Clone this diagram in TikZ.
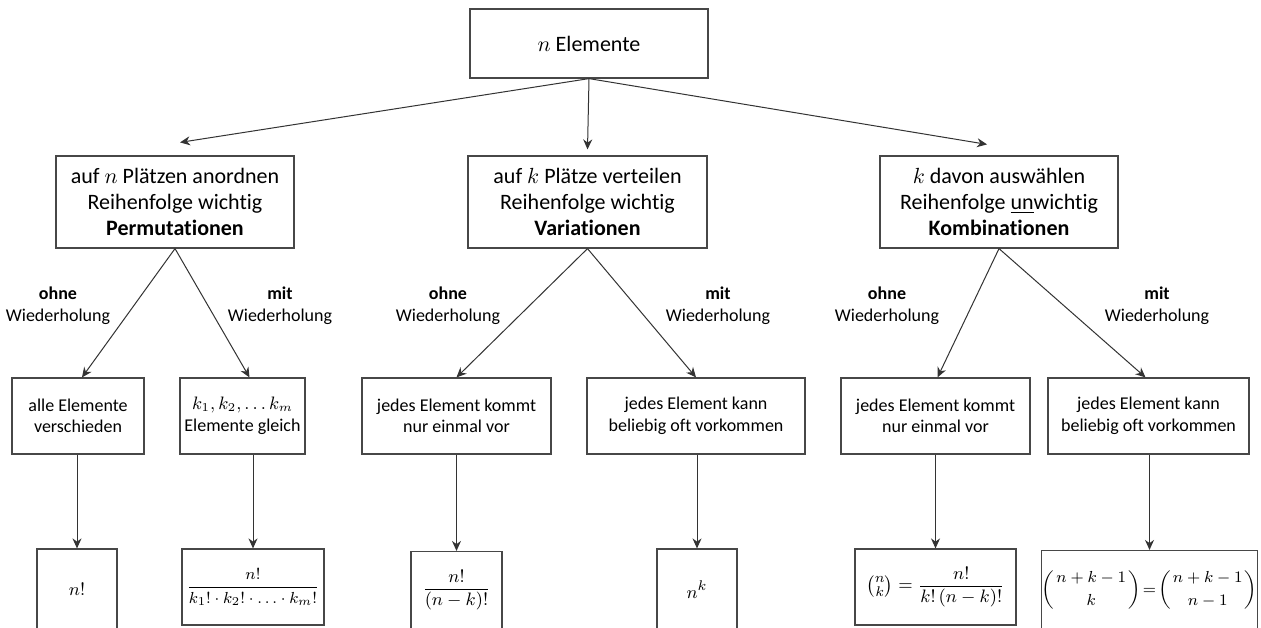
\documentclass[tikz,border=0pt]{standalone}
\usepackage{amsmath}
\usepackage[no-math]{fontspec}
\setmainfont[Ligatures=NoCommon]{Carlito}
\usetikzlibrary{arrows.meta,calc}
\newcommand{\mydot}{\mathbin{\cdot}}
\tikzset{
  box/.style={draw=black!72, line width=0.6pt, rectangle, inner sep=0pt, align=center},
  bigtxt/.style={font=\fontsize{11}{13}\selectfont},
  smalltxt/.style={font=\fontsize{9}{10.8}\selectfont},
  mathtxt/.style={font=\fontsize{9.5}{11}\selectfont},
  lbl/.style={align=center, inner sep=0pt, font=\fontsize{9}{11}\selectfont},
  conn/.style={draw=black!80, line width=0.5pt, -{Stealth[length=5pt,width=4.5pt]}},
}
\begin{document}
\begin{tikzpicture}[x=0.5pt,y=-0.5pt]
\useasboundingbox (0,0) rectangle (1261,627);
\clip (0,0) rectangle (1261,627);
\fill[white] (0,0) rectangle (1261,627);

% top
\node[box,bigtxt,minimum width=119pt,minimum height=34.5pt] (top) at (589,43.5) {$n$ Elemente};

% level 2
\node[box,bigtxt,minimum width=119pt,minimum height=46pt] (perm) at (175,202)
  {auf $n$ Plätzen anordnen\\Reihenfolge wichtig\\\textbf{Permutationen}};
\node[box,bigtxt,minimum width=119.5pt,minimum height=46pt] (var) at (587.5,202)
  {auf $k$ Plätze verteilen\\Reihenfolge wichtig\\\textbf{Variationen}};
\node[box,bigtxt,minimum width=119pt,minimum height=46pt] (komb) at (999,202)
  {$k$ davon auswählen\\Reihenfolge \underline{un}wichtig\\\textbf{Kombinationen}};

% level 3
\node[box,smalltxt,minimum width=66pt,minimum height=38pt] (pa) at (78,416) {alle Elemente\\verschieden};
\node[box,smalltxt,minimum width=62.5pt,minimum height=38pt] (pb) at (242.5,416) {$k_1, k_2, \ldots k_m$\\Elemente gleich};
\node[box,smalltxt,minimum width=94.5pt,minimum height=38pt] (va) at (456.5,416) {jedes Element kommt\\nur einmal vor};
\node[box,smalltxt,minimum width=109pt,minimum height=38pt] (vb) at (696,416) {jedes Element kann\\beliebig oft vorkommen};
\node[box,smalltxt,minimum width=94.5pt,minimum height=38pt] (ka) at (935.5,416) {jedes Element kommt\\nur einmal vor};
\node[box,smalltxt,minimum width=100.5pt,minimum height=38pt] (kb) at (1148.5,416) {jedes Element kann\\beliebig oft vorkommen};

% level 4
\node[box,mathtxt,minimum width=40pt,minimum height=40.5pt] (ra) at (77,589.5) {$n!$};
\node[box,font=\fontsize{8.5}{10}\selectfont,minimum width=71pt,minimum height=38pt] (rb) at (253,587)
  {$\displaystyle\frac{n!}{k_1!\mydot k_2!\mydot \ldots\mydot k_m!}$};
\node[box,mathtxt,minimum width=45.5pt,minimum height=38.5pt] (rc) at (456.5,590) {$\displaystyle\frac{n!}{(n-k)!}$};
\node[box,mathtxt,minimum width=40pt,minimum height=40.5pt] (rd) at (697,589.5) {$n^k$};
\node[box,mathtxt,minimum width=80.5pt,minimum height=38pt] (re) at (935.5,587) {$\displaystyle\tbinom{n}{k}=\frac{n!}{k!\,(n-k)!}$};
\node[box,font=\fontsize{8.5}{10}\selectfont,minimum width=107.5pt,minimum height=39.5pt] (rf) at (1149.5,590)
  {$\displaystyle\left(\genfrac{}{}{0pt}{0}{n+k-1}{k}\right)\!=\!\left(\genfrac{}{}{0pt}{0}{n+k-1}{n-1}\right)$};

% labels
\node[lbl] (l1) at (58,306) {\textbf{ohne}\\Wiederholung};
\node[lbl] (l2) at (280,306) {\textbf{mit}\\Wiederholung};
\node[lbl] (l3) at (448,306) {\textbf{ohne}\\Wiederholung};
\node[lbl] (l4) at (718,306) {\textbf{mit}\\Wiederholung};
\node[lbl] (l5) at (887,306) {\textbf{ohne}\\Wiederholung};
\node[lbl] (l6) at (1157,306) {\textbf{mit}\\Wiederholung};

% connectors top
\draw[conn] (top.south) -- ($(perm.north)+(5,-13)$);
\draw[conn] (top.south) -- ($(var.north)+(0,-6)$);
\draw[conn] (top.south) -- ($(komb.north)+(-12,-11)$);

% level 2 -> 3
\draw[conn] (perm.south) -- ($(pa.north)+(4,0)$);
\draw[conn] (perm.south) -- ($(pb.north)+(7,0)$);
\draw[conn] (var.south) -- (va.north);
\draw[conn] (var.south) -- (vb.north);
\draw[conn] (komb.south) -- ($(ka.north)+(2,0)$);
\draw[conn] (komb.south) -- ($(kb.north)+(-3,0)$);

% level 3 -> 4
\draw[conn] (ra.north |- pa.south) -- (ra.north);
\draw[conn] (rb.north |- pb.south) -- (rb.north);
\draw[conn] (rc.north |- va.south) -- (rc.north);
\draw[conn] (rd.north |- vb.south) -- (rd.north);
\draw[conn] (re.north |- ka.south) -- (re.north);
\draw[conn] (rf.north |- kb.south) -- (rf.north);
\end{tikzpicture}
\end{document}
